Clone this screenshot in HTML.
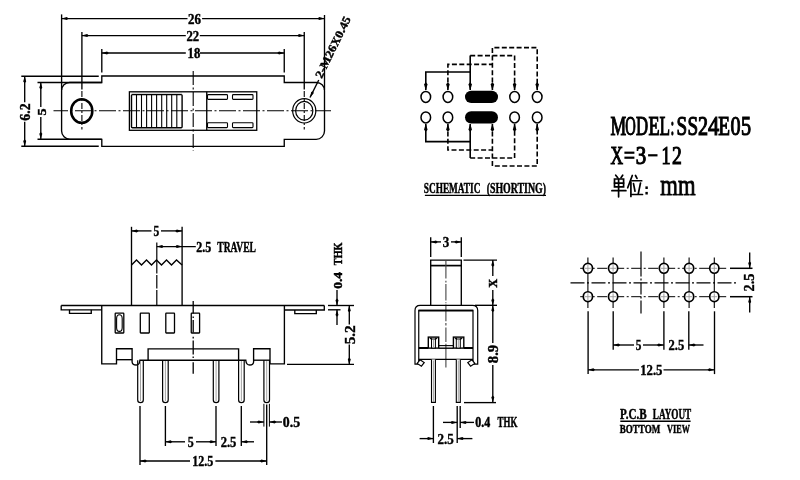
<!DOCTYPE html>
<html><head><meta charset="utf-8"><style>
html,body{margin:0;padding:0;background:#fff;width:800px;height:480px;overflow:hidden}
svg{display:block;will-change:transform}
</style></head><body>
<svg width="800" height="480" viewBox="0 0 800 480" stroke="#000" stroke-linecap="butt">
<rect x="0" y="0" width="800" height="480" fill="#fff" stroke="none"/>
<g fill="#000">
<line x1="61.6" y1="14.4" x2="61.6" y2="90" stroke-width="1.35" />
<line x1="81.9" y1="32" x2="81.9" y2="89.6" stroke-width="1.35" />
<line x1="101.8" y1="49" x2="101.8" y2="72.4" stroke-width="1.35" />
<line x1="324.5" y1="15" x2="324.5" y2="90" stroke-width="1.35" />
<line x1="304.25" y1="32" x2="304.25" y2="89.6" stroke-width="1.35" />
<line x1="284.25" y1="49" x2="284.25" y2="72.4" stroke-width="1.35" />
<line x1="61.6" y1="18.6" x2="187.5" y2="18.6" stroke-width="1.35" />
<line x1="202.1" y1="18.6" x2="324.5" y2="18.6" stroke-width="1.35" />
<polygon points="61.60,18.60 66.85,17.10 68.60,18.60 66.85,20.10" fill="#000" stroke="none"/>
<polygon points="324.50,18.60 319.25,17.10 317.50,18.60 319.25,20.10" fill="#000" stroke="none"/>
<text x="194.6" y="23.70" font-family="Liberation Serif" font-weight="bold" font-size="13.91" text-anchor="middle" textLength="12.96" lengthAdjust="spacingAndGlyphs" stroke="#000" stroke-width="0.4">26</text>
<line x1="81.9" y1="35.6" x2="185.8" y2="35.6" stroke-width="1.35" />
<line x1="199.8" y1="35.6" x2="304.25" y2="35.6" stroke-width="1.35" />
<polygon points="81.90,35.60 87.15,34.10 88.90,35.60 87.15,37.10" fill="#000" stroke="none"/>
<polygon points="304.25,35.60 299.00,34.10 297.25,35.60 299.00,37.10" fill="#000" stroke="none"/>
<text x="192.8" y="40.80" font-family="Liberation Serif" font-weight="bold" font-size="13.91" text-anchor="middle" textLength="12.74" lengthAdjust="spacingAndGlyphs" stroke="#000" stroke-width="0.4">22</text>
<line x1="101.8" y1="53" x2="185.8" y2="53" stroke-width="1.35" />
<line x1="200" y1="53" x2="284.25" y2="53" stroke-width="1.35" />
<polygon points="101.80,53.00 107.05,51.50 108.80,53.00 107.05,54.50" fill="#000" stroke="none"/>
<polygon points="284.25,53.00 279.00,51.50 277.25,53.00 279.00,54.50" fill="#000" stroke="none"/>
<text x="193.9" y="57.70" font-family="Liberation Serif" font-weight="bold" font-size="13.91" text-anchor="middle" textLength="12.74" lengthAdjust="spacingAndGlyphs" stroke="#000" stroke-width="0.4">18</text>
<path d="M101.8,76 H284.25 V82.5 H316.5 A8,8 0 0 1 324.5,90.5 V131 A8.3,8.3 0 0 1 316.2,139.3 H284.25 V146.3 H101.8 V139.3 H70 A8.4,8.4 0 0 1 61.6,130.9 V90.5 A8,8 0 0 1 69.6,82.5 H101.8 Z" stroke-width="1.35" fill="none" />
<line x1="21.3" y1="76.2" x2="98.75" y2="76.2" stroke-width="1.35" />
<line x1="21.3" y1="146.2" x2="98.75" y2="146.2" stroke-width="1.35" />
<line x1="37.5" y1="82.5" x2="101.8" y2="82.5" stroke-width="1.35" />
<line x1="37.5" y1="139.2" x2="101.8" y2="139.2" stroke-width="1.35" />
<line x1="24.7" y1="76.2" x2="24.7" y2="102.3" stroke-width="1.35" />
<line x1="24.7" y1="121.7" x2="24.7" y2="146.2" stroke-width="1.35" />
<polygon points="24.70,76.20 23.20,81.45 24.70,83.20 26.20,81.45" fill="#000" stroke="none"/>
<polygon points="24.70,146.20 23.20,140.95 24.70,139.20 26.20,140.95" fill="#000" stroke="none"/>
<g transform="translate(24.9 112.0) rotate(-90)"><text x="0" y="4.95" font-family="Liberation Serif" font-weight="bold" font-size="14.64" text-anchor="middle" textLength="17.28" lengthAdjust="spacingAndGlyphs" stroke="#000" stroke-width="0.4">6.2</text></g>
<line x1="40.8" y1="82.5" x2="40.8" y2="107" stroke-width="1.35" />
<line x1="40.8" y1="117" x2="40.8" y2="138.9" stroke-width="1.35" />
<polygon points="40.80,82.50 39.30,87.75 40.80,89.50 42.30,87.75" fill="#000" stroke="none"/>
<polygon points="40.80,138.90 39.30,133.65 40.80,131.90 42.30,133.65" fill="#000" stroke="none"/>
<g transform="translate(41.6 112) rotate(-90)"><text x="0" y="3.95" font-family="Liberation Serif" font-weight="bold" font-size="11.69" text-anchor="middle" textLength="7.13" lengthAdjust="spacingAndGlyphs" stroke="#000" stroke-width="0.4">5</text></g>
<ellipse cx="81.75" cy="111" rx="10.6" ry="11.8" stroke-width="2.5" fill="none"/>
<ellipse cx="304.25" cy="110.8" rx="11.6" ry="12.2" stroke-width="1.2" fill="none"/>
<ellipse cx="304.25" cy="110.8" rx="8.6" ry="9.4" stroke-width="1.2" fill="none"/>
<line x1="53.5" y1="110.8" x2="331" y2="110.8" stroke-width="1.1" stroke-dasharray="17 2.5 2 2.5" stroke-dashoffset="2.5"/>
<line x1="81.9" y1="91" x2="81.9" y2="129.5" stroke-width="1.1" stroke-dasharray="6 2 2 2"/>
<line x1="304.25" y1="91" x2="304.25" y2="129.5" stroke-width="1.1" stroke-dasharray="6 2 2 2"/>
<line x1="193.2" y1="71" x2="193.2" y2="151" stroke-width="1.1" stroke-dasharray="14 2.5 2 2.5"/>
<rect x="129.4" y="91.8" width="127.35" height="38.5" stroke-width="1.3" fill="none"/>
<line x1="206.75" y1="91.8" x2="206.75" y2="130.3" stroke-width="1.35" />
<rect x="131.5" y="94.6" width="50.6" height="33.1" rx="1" stroke-width="1.4" fill="none"/>
<line x1="131.5" y1="92.9" x2="182" y2="92.9" stroke-width="0.8" stroke="#777"/>
<line x1="136.5" y1="94.6" x2="136.5" y2="127.7" stroke-width="1.1" />
<line x1="141.5" y1="94.6" x2="141.5" y2="127.7" stroke-width="1.1" />
<line x1="146.6" y1="94.6" x2="146.6" y2="127.7" stroke-width="1.1" />
<line x1="151.6" y1="94.6" x2="151.6" y2="127.7" stroke-width="1.1" />
<line x1="156.6" y1="94.6" x2="156.6" y2="127.7" stroke-width="1.1" />
<line x1="161.7" y1="94.6" x2="161.7" y2="127.7" stroke-width="1.1" />
<line x1="166.7" y1="94.6" x2="166.7" y2="127.7" stroke-width="1.1" />
<line x1="171.7" y1="94.6" x2="171.7" y2="127.7" stroke-width="1.1" />
<line x1="176.8" y1="94.6" x2="176.8" y2="127.7" stroke-width="1.1" />
<rect x="207.5" y="94.6" width="20.0" height="4.8" rx="0.8" stroke-width="1.1" fill="none"/>
<rect x="207.5" y="122.8" width="20.0" height="4.8" rx="0.8" stroke-width="1.1" fill="none"/>
<rect x="232.5" y="94.6" width="20.5" height="4.8" rx="0.8" stroke-width="1.1" fill="none"/>
<rect x="232.5" y="122.8" width="20.5" height="4.8" rx="0.8" stroke-width="1.1" fill="none"/>
<line x1="310" y1="97.5" x2="318.75" y2="80" stroke-width="1.35" />
<polygon points="310.00,97.50 311.21,91.95 313.13,91.24 313.71,93.21" fill="#000" stroke="none"/>
<g transform="translate(332.8 47.2) rotate(-64)"><text x="0" y="3.9" font-family="Liberation Serif" font-weight="bold" font-size="11.6" text-anchor="middle" textLength="67" lengthAdjust="spacingAndGlyphs" stroke="#000" stroke-width="0.4">2-M26X0.45</text></g>
<ellipse cx="425.8" cy="96.9" rx="4.8" ry="5.5" stroke-width="1.5" fill="none"/>
<ellipse cx="425.8" cy="117.4" rx="4.8" ry="5.5" stroke-width="1.5" fill="none"/>
<ellipse cx="447.9" cy="96.9" rx="4.8" ry="5.5" stroke-width="1.5" fill="none"/>
<ellipse cx="447.9" cy="117.4" rx="4.8" ry="5.5" stroke-width="1.5" fill="none"/>
<ellipse cx="514.6" cy="96.9" rx="4.8" ry="5.5" stroke-width="1.5" fill="none"/>
<ellipse cx="514.6" cy="117.4" rx="4.8" ry="5.5" stroke-width="1.5" fill="none"/>
<ellipse cx="537.2" cy="96.9" rx="4.8" ry="5.5" stroke-width="1.5" fill="none"/>
<ellipse cx="537.2" cy="117.4" rx="4.8" ry="5.5" stroke-width="1.5" fill="none"/>
<rect x="465" y="90.7" width="33" height="12.4" rx="6.2" fill="#000" stroke="none"/>
<rect x="465" y="111.3" width="33" height="12.2" rx="6.1" fill="#000" stroke="none"/>
<polyline points="425.8,90 425.8,72 470.2,72" stroke-width="1.6" fill="none" />
<line x1="470.2" y1="55.6" x2="470.2" y2="90" stroke-width="1.6" />
<polyline points="447.9,90 447.9,64.4 492.4,64.4" stroke-width="1.6" fill="none" stroke-dasharray="5 2.4"/>
<polyline points="470.2,55.6 514.6,55.6 514.6,90" stroke-width="1.6" fill="none" stroke-dasharray="5 2.4"/>
<polyline points="492.4,90 492.4,47.6 537.2,47.6 537.2,90" stroke-width="1.6" fill="none" stroke-dasharray="5 2.4"/>
<polygon points="425.80,90.20 424.00,84.20 425.80,82.20 427.60,84.20" fill="#000" stroke="none"/>
<polygon points="447.90,90.20 446.10,84.20 447.90,82.20 449.70,84.20" fill="#000" stroke="none"/>
<polygon points="470.20,90.20 468.40,84.20 470.20,82.20 472.00,84.20" fill="#000" stroke="none"/>
<polygon points="492.40,90.20 490.60,84.20 492.40,82.20 494.20,84.20" fill="#000" stroke="none"/>
<polygon points="514.60,90.20 512.80,84.20 514.60,82.20 516.40,84.20" fill="#000" stroke="none"/>
<polygon points="537.20,90.20 535.40,84.20 537.20,82.20 539.00,84.20" fill="#000" stroke="none"/>
<polyline points="425.8,124 425.8,141.6 470.2,141.6" stroke-width="1.6" fill="none" />
<line x1="470.2" y1="124" x2="470.2" y2="158" stroke-width="1.6" />
<polyline points="447.9,124 447.9,150 492.4,150" stroke-width="1.6" fill="none" stroke-dasharray="5 2.4"/>
<polyline points="470.2,158 514.6,158 514.6,124" stroke-width="1.6" fill="none" stroke-dasharray="5 2.4"/>
<polyline points="492.4,124 492.4,166 537.2,166 537.2,124" stroke-width="1.6" fill="none" stroke-dasharray="5 2.4"/>
<polygon points="425.80,123.80 424.00,129.80 425.80,131.80 427.60,129.80" fill="#000" stroke="none"/>
<polygon points="447.90,123.80 446.10,129.80 447.90,131.80 449.70,129.80" fill="#000" stroke="none"/>
<polygon points="470.20,123.80 468.40,129.80 470.20,131.80 472.00,129.80" fill="#000" stroke="none"/>
<polygon points="492.40,123.80 490.60,129.80 492.40,131.80 494.20,129.80" fill="#000" stroke="none"/>
<polygon points="514.60,123.80 512.80,129.80 514.60,131.80 516.40,129.80" fill="#000" stroke="none"/>
<polygon points="537.20,123.80 535.40,129.80 537.20,131.80 539.00,129.80" fill="#000" stroke="none"/>
<text x="452.10" y="193.18" font-family="Liberation Serif" font-weight="bold" font-size="13.97" text-anchor="middle" textLength="56.58" lengthAdjust="spacingAndGlyphs" stroke="#000" stroke-width="0.45">SCHEMATIC</text>
<text x="516.35" y="193.18" font-family="Liberation Serif" font-weight="bold" font-size="13.97" text-anchor="middle" textLength="59.30" lengthAdjust="spacingAndGlyphs" stroke="#000" stroke-width="0.45">(SHORTING)</text>
<line x1="424.9" y1="195.3" x2="546" y2="195.3" stroke-width="1.3" />
<line x1="131.5" y1="226.8" x2="131.5" y2="265" stroke-width="1.35" />
<line x1="182.1" y1="226.8" x2="182.1" y2="265" stroke-width="1.35" />
<line x1="131.5" y1="230.9" x2="151.5" y2="230.9" stroke-width="1.35" />
<line x1="161" y1="230.9" x2="182.1" y2="230.9" stroke-width="1.35" />
<polygon points="131.50,230.90 136.75,229.40 138.50,230.90 136.75,232.40" fill="#000" stroke="none"/>
<polygon points="182.10,230.90 176.85,229.40 175.10,230.90 176.85,232.40" fill="#000" stroke="none"/>
<text x="156.3" y="235.90" font-family="Liberation Serif" font-weight="bold" font-size="13.61" text-anchor="middle" textLength="5.72" lengthAdjust="spacingAndGlyphs" stroke="#000" stroke-width="0.4">5</text>
<line x1="156.8" y1="242.4" x2="156.8" y2="273.5" stroke-width="1.2" />
<line x1="156.8" y1="275" x2="156.8" y2="288.5" stroke-width="1.2" />
<line x1="156.8" y1="290" x2="156.8" y2="305.5" stroke-width="1.2" />
<line x1="156.8" y1="246.6" x2="195.8" y2="246.6" stroke-width="1.35" />
<polygon points="156.80,246.60 162.05,245.10 163.80,246.60 162.05,248.10" fill="#000" stroke="none"/>
<polygon points="182.10,246.60 176.85,245.10 175.10,246.60 176.85,248.10" fill="#000" stroke="none"/>
<text x="203.80" y="251.53" font-family="Liberation Serif" font-weight="bold" font-size="14.50" text-anchor="middle" textLength="14.98" lengthAdjust="spacingAndGlyphs" stroke="#000" stroke-width="0.45">2.5</text>
<text x="236.60" y="251.53" font-family="Liberation Serif" font-weight="bold" font-size="14.50" text-anchor="middle" textLength="38.69" lengthAdjust="spacingAndGlyphs" stroke="#000" stroke-width="0.45">TRAVEL</text>
<polyline points="131.5,265 136.5,260 141.5,265 146.5,260 151.5,265 156.5,260 161.5,265 166.5,260 171.5,265 176.5,260 182.1,265" stroke-width="1.35" fill="none" />
<line x1="131.5" y1="265" x2="131.5" y2="305.5" stroke-width="1.35" />
<line x1="182.1" y1="265" x2="182.1" y2="305.5" stroke-width="1.35" />
<line x1="61.2" y1="305.5" x2="324.3" y2="305.5" stroke-width="1.35" />
<polyline points="61.2,305.5 61.2,309.8 101.75,309.8" stroke-width="1.35" fill="none" />
<polyline points="324.3,305.5 324.3,310 284.4,310" stroke-width="1.35" fill="none" />
<polyline points="69.5,309.8 69.5,313.4 91.25,313.4 91.25,309.8" stroke-width="1.35" fill="none" />
<polyline points="294.8,310 294.8,313.6 316.3,313.6 316.3,310" stroke-width="1.35" fill="none" />
<path d="M101.75,305.5 V363.9 H116.5 V348.75 H132.1 V362 Q132.3,365 136.2,365 Q139.6,365 139.9,360.2 H245.8 Q246.2,365 249.8,365 Q253.4,365 253.6,362 V348.75 H270 V363.9 H284.4 V305.5" stroke-width="1.35" fill="none" />
<line x1="116.5" y1="359.7" x2="132.1" y2="359.7" stroke-width="1.35" />
<line x1="253.6" y1="360.2" x2="270" y2="360.2" stroke-width="1.35" />
<polyline points="148.1,360.2 148.1,348.9 238.6,348.9 238.6,360.2" stroke-width="1.35" fill="none" />
<rect x="115.2" y="313.2" width="8.599999999999994" height="19.8" rx="0.5" stroke-width="1.3" fill="none"/>
<rect x="140.3" y="313.2" width="9.0" height="19.8" rx="0.5" stroke-width="1.3" fill="none"/>
<rect x="165.8" y="313.2" width="8.699999999999989" height="19.8" rx="0.5" stroke-width="1.3" fill="none"/>
<rect x="191.25" y="313.2" width="8.349999999999994" height="19.8" rx="0.5" stroke-width="1.3" fill="none"/>
<rect x="116.6" y="314.8" width="5.6" height="16.6" rx="2.8" ry="4" stroke-width="1.1" fill="none"/>
<line x1="193.2" y1="300.9" x2="193.2" y2="313.5" stroke-width="1.3" />
<line x1="193.2" y1="316.5" x2="193.2" y2="318" stroke-width="1.3" />
<line x1="193.2" y1="320" x2="193.2" y2="332.5" stroke-width="1.3" />
<line x1="193.2" y1="336.8" x2="193.2" y2="338.4" stroke-width="1.3" />
<line x1="193.2" y1="340.4" x2="193.2" y2="354.5" stroke-width="1.3" />
<line x1="193.2" y1="356.5" x2="193.2" y2="358" stroke-width="1.3" />
<line x1="193.2" y1="362.3" x2="193.2" y2="373.75" stroke-width="1.3" />
<path d="M137.7,360.2 V400 Q137.7,402.6 140.5,402.6 Q143.3,402.6 143.3,400 V360.2" stroke-width="1.2" fill="none" />
<line x1="140.5" y1="361" x2="140.5" y2="401" stroke-width="0.9" stroke="#999"/>
<path d="M162.6,360.2 V400 Q162.6,402.6 165.4,402.6 Q168.20000000000002,402.6 168.20000000000002,400 V360.2" stroke-width="1.2" fill="none" />
<line x1="165.4" y1="361" x2="165.4" y2="401" stroke-width="0.9" stroke="#999"/>
<path d="M213.29999999999998,360.2 V400 Q213.29999999999998,402.6 216.1,402.6 Q218.9,402.6 218.9,400 V360.2" stroke-width="1.2" fill="none" />
<line x1="216.1" y1="361" x2="216.1" y2="401" stroke-width="0.9" stroke="#999"/>
<path d="M238.6,360.2 V400 Q238.6,402.6 241.4,402.6 Q244.20000000000002,402.6 244.20000000000002,400 V360.2" stroke-width="1.2" fill="none" />
<line x1="241.4" y1="361" x2="241.4" y2="401" stroke-width="0.9" stroke="#999"/>
<path d="M263.9,360.2 V400 Q263.9,402.6 266.7,402.6 Q269.5,402.6 269.5,400 V360.2" stroke-width="1.2" fill="none" />
<line x1="266.7" y1="361" x2="266.7" y2="401" stroke-width="0.9" stroke="#999"/>
<line x1="140.0" y1="406" x2="140.0" y2="465" stroke-width="1.35" />
<line x1="165.4" y1="406" x2="165.4" y2="446" stroke-width="1.35" />
<line x1="216.0" y1="406" x2="216.0" y2="446" stroke-width="1.35" />
<line x1="241.3" y1="406" x2="241.3" y2="446" stroke-width="1.35" />
<line x1="266.7" y1="404.6" x2="266.7" y2="465" stroke-width="1.35" />
<line x1="263.9" y1="403.8" x2="263.9" y2="426.6" stroke-width="1.0" />
<line x1="269.4" y1="403.8" x2="269.4" y2="426.6" stroke-width="1.0" />
<line x1="140.0" y1="461" x2="190" y2="461" stroke-width="1.35" />
<line x1="215.4" y1="461" x2="266.7" y2="461" stroke-width="1.35" />
<polygon points="140.00,461.00 145.25,459.50 147.00,461.00 145.25,462.50" fill="#000" stroke="none"/>
<polygon points="266.70,461.00 261.45,459.50 259.70,461.00 261.45,462.50" fill="#000" stroke="none"/>
<text x="202.7" y="466.30" font-family="Liberation Serif" font-weight="bold" font-size="13.91" text-anchor="middle" textLength="21.06" lengthAdjust="spacingAndGlyphs" stroke="#000" stroke-width="0.4">12.5</text>
<line x1="165.4" y1="441.8" x2="185" y2="441.8" stroke-width="1.35" />
<line x1="196" y1="441.8" x2="216.0" y2="441.8" stroke-width="1.35" />
<polygon points="165.40,441.80 170.65,440.30 172.40,441.80 170.65,443.30" fill="#000" stroke="none"/>
<polygon points="216.00,441.80 210.75,440.30 209.00,441.80 210.75,443.30" fill="#000" stroke="none"/>
<text x="190.8" y="446.80" font-family="Liberation Serif" font-weight="bold" font-size="13.61" text-anchor="middle" textLength="5.94" lengthAdjust="spacingAndGlyphs" stroke="#000" stroke-width="0.4">5</text>
<text x="228.5" y="446.80" font-family="Liberation Serif" font-weight="bold" font-size="13.61" text-anchor="middle" textLength="15.66" lengthAdjust="spacingAndGlyphs" stroke="#000" stroke-width="0.4">2.5</text>
<line x1="241.3" y1="441.8" x2="254" y2="441.8" stroke-width="1.35" />
<polygon points="241.30,441.80 246.55,440.30 248.30,441.80 246.55,443.30" fill="#000" stroke="none"/>
<line x1="250" y1="422" x2="263.9" y2="422" stroke-width="1.35" />
<polygon points="263.90,422.00 258.65,420.50 256.90,422.00 258.65,423.50" fill="#000" stroke="none"/>
<line x1="269.4" y1="422" x2="282" y2="422" stroke-width="1.35" />
<polygon points="269.40,422.00 274.65,420.50 276.40,422.00 274.65,423.50" fill="#000" stroke="none"/>
<text x="291.5" y="426.90" font-family="Liberation Serif" font-weight="bold" font-size="13.61" text-anchor="middle" textLength="17.28" lengthAdjust="spacingAndGlyphs" stroke="#000" stroke-width="0.4">0.5</text>
<line x1="328" y1="305.5" x2="354" y2="305.5" stroke-width="1.35" />
<line x1="328" y1="309.8" x2="340.5" y2="309.8" stroke-width="1.35" />
<line x1="337" y1="290" x2="337" y2="305.5" stroke-width="1.35" />
<polygon points="337.00,305.50 335.50,300.25 337.00,298.50 338.50,300.25" fill="#000" stroke="none"/>
<line x1="337" y1="309.8" x2="337" y2="325" stroke-width="1.35" />
<polygon points="337.00,309.80 335.50,315.05 337.00,316.80 338.50,315.05" fill="#000" stroke="none"/>
<g transform="translate(341.67 253.82) rotate(-90)"><text x="0" y="0" font-family="Liberation Serif" font-weight="bold" font-size="12.61" text-anchor="middle" textLength="22.72" lengthAdjust="spacingAndGlyphs" stroke="#000" stroke-width="0.45">THK</text></g>
<g transform="translate(341.67 280.38) rotate(-90)"><text x="0" y="0" font-family="Liberation Serif" font-weight="bold" font-size="12.61" text-anchor="middle" textLength="16.90" lengthAdjust="spacingAndGlyphs" stroke="#000" stroke-width="0.45">0.4</text></g>
<line x1="287" y1="364.4" x2="354" y2="364.4" stroke-width="1.35" />
<line x1="349.3" y1="305.5" x2="349.3" y2="324.5" stroke-width="1.35" />
<line x1="349.3" y1="344.5" x2="349.3" y2="364.4" stroke-width="1.35" />
<polygon points="349.30,305.50 347.80,310.75 349.30,312.50 350.80,310.75" fill="#000" stroke="none"/>
<polygon points="349.30,364.40 347.80,359.15 349.30,357.40 350.80,359.15" fill="#000" stroke="none"/>
<g transform="translate(350.5 334.8) rotate(-90)"><text x="0" y="4.60" font-family="Liberation Serif" font-weight="bold" font-size="13.61" text-anchor="middle" textLength="19.01" lengthAdjust="spacingAndGlyphs" stroke="#000" stroke-width="0.4">5.2</text></g>
<line x1="430.7" y1="237.2" x2="430.7" y2="256.9" stroke-width="1.35" />
<line x1="461.3" y1="237.2" x2="461.3" y2="256.9" stroke-width="1.35" />
<line x1="430.7" y1="241.9" x2="441" y2="241.9" stroke-width="1.35" />
<line x1="451" y1="241.9" x2="461.3" y2="241.9" stroke-width="1.35" />
<polygon points="430.70,241.90 435.95,240.40 437.70,241.90 435.95,243.40" fill="#000" stroke="none"/>
<polygon points="461.30,241.90 456.05,240.40 454.30,241.90 456.05,243.40" fill="#000" stroke="none"/>
<text x="446" y="247.10" font-family="Liberation Serif" font-weight="bold" font-size="14.20" text-anchor="middle" textLength="6.48" lengthAdjust="spacingAndGlyphs" stroke="#000" stroke-width="0.4">3</text>
<polyline points="430.7,305.3 430.7,260.1 461.3,260.1 461.3,305.3" stroke-width="1.35" fill="none" />
<line x1="430.7" y1="265.6" x2="461.3" y2="265.6" stroke-width="1.7" />
<line x1="445.9" y1="260.6" x2="445.9" y2="278.5" stroke-width="1.1" stroke="#444"/>
<line x1="445.9" y1="280.8" x2="445.9" y2="282.5" stroke-width="1.1" stroke="#444"/>
<line x1="445.9" y1="284" x2="445.9" y2="300.4" stroke-width="1.1" stroke="#444"/>
<line x1="445.9" y1="302.2" x2="445.9" y2="303.2" stroke-width="1.1" stroke="#444"/>
<line x1="445.9" y1="304.5" x2="445.9" y2="321.3" stroke-width="1.1" stroke="#444"/>
<line x1="445.9" y1="323" x2="445.9" y2="325.6" stroke-width="1.1" stroke="#444"/>
<line x1="445.9" y1="327.5" x2="445.9" y2="342" stroke-width="1.1" stroke="#444"/>
<line x1="445.9" y1="343.8" x2="445.9" y2="367.5" stroke-width="1.1" stroke="#444"/>
<line x1="463.5" y1="260.1" x2="497" y2="260.1" stroke-width="1.35" />
<line x1="475" y1="305.3" x2="497" y2="305.3" stroke-width="1.35" />
<line x1="492.8" y1="260.1" x2="492.8" y2="276" stroke-width="1.35" />
<line x1="492.8" y1="290" x2="492.8" y2="305.3" stroke-width="1.35" />
<polygon points="492.80,260.10 491.30,265.35 492.80,267.10 494.30,265.35" fill="#000" stroke="none"/>
<polygon points="492.80,305.30 491.30,300.05 492.80,298.30 494.30,300.05" fill="#000" stroke="none"/>
<g transform="translate(496.77 283.25) rotate(-90)"><text x="0" y="0" font-family="Liberation Serif" font-weight="bold" font-size="12.92" text-anchor="middle" textLength="8.93" lengthAdjust="spacingAndGlyphs" stroke="#000" stroke-width="0.45">X</text></g>
<path d="M415,364.2 V310.5 Q415,305.3 420.2,305.3 H472.5 Q477.7,305.3 477.7,310.5 V364.2 H473 V310.4 H418.75 V364.2 Z" stroke-width="1.2" fill="none" />
<line x1="418.75" y1="310.6" x2="473" y2="310.6" stroke-width="1.8" />
<polygon points="420,359.8 424.2,362.6 421.4,366.2 417.2,363.4" stroke-width="1.2" fill="#fff"/>
<polygon points="472,359.8 467.8,362.6 470.6,366.2 474.8,363.4" stroke-width="1.2" fill="#fff"/>
<line x1="418.75" y1="348" x2="428.3" y2="348" stroke-width="2.0" />
<line x1="463.8" y1="348" x2="473" y2="348" stroke-width="2.0" />
<line x1="418.75" y1="359.4" x2="473" y2="359.4" stroke-width="1.3" />
<line x1="438.75" y1="345.6" x2="453.4" y2="345.6" stroke-width="1.1" />
<line x1="438.75" y1="348.2" x2="453.4" y2="348.2" stroke-width="1.4" />
<rect x="428.3" y="337.1" width="10.4" height="11" stroke-width="1.4" fill="#fff"/>
<polygon points="429.0,337.8 431.90000000000003,337.8 431.90000000000003,340.6" fill="#000" stroke="none"/>
<polygon points="438.0,337.8 435.1,337.8 435.1,340.6" fill="#000" stroke="none"/>
<rect x="453.4" y="337.1" width="10.4" height="11" stroke-width="1.4" fill="#fff"/>
<polygon points="454.09999999999997,337.8 457.0,337.8 457.0,340.6" fill="#000" stroke="none"/>
<polygon points="463.09999999999997,337.8 460.2,337.8 460.2,340.6" fill="#000" stroke="none"/>
<rect x="431.5" y="339" width="3.8999999999999773" height="9" stroke-width="1.0" fill="#fff"/>
<line x1="433.45" y1="340" x2="433.45" y2="347.5" stroke-width="0.9" stroke="#999"/>
<path d="M431.5,359.4 V402.4 H435.4 V359.4" stroke-width="1.1" fill="#fff"/>
<line x1="433.45" y1="360.5" x2="433.45" y2="402" stroke-width="0.9" stroke="#999"/>
<rect x="456.3" y="339" width="4.0" height="9" stroke-width="1.0" fill="#fff"/>
<line x1="458.3" y1="340" x2="458.3" y2="347.5" stroke-width="0.9" stroke="#999"/>
<path d="M456.3,359.4 V402.4 H460.3 V359.4" stroke-width="1.1" fill="#fff"/>
<line x1="458.3" y1="360.5" x2="458.3" y2="402" stroke-width="0.9" stroke="#999"/>
<line x1="492.8" y1="305.3" x2="492.8" y2="343" stroke-width="1.35" />
<line x1="492.8" y1="365" x2="492.8" y2="402.6" stroke-width="1.35" />
<polygon points="492.80,305.30 491.30,310.55 492.80,312.30 494.30,310.55" fill="#000" stroke="none"/>
<polygon points="492.80,402.60 491.30,397.35 492.80,395.60 494.30,397.35" fill="#000" stroke="none"/>
<g transform="translate(493 354) rotate(-90)"><text x="0" y="4.60" font-family="Liberation Serif" font-weight="bold" font-size="13.61" text-anchor="middle" textLength="18.36" lengthAdjust="spacingAndGlyphs" stroke="#000" stroke-width="0.4">8.9</text></g>
<line x1="464" y1="402.6" x2="496" y2="402.6" stroke-width="1.35" />
<line x1="433.4" y1="406" x2="433.4" y2="443" stroke-width="1.35" />
<line x1="457.2" y1="406" x2="457.2" y2="443" stroke-width="1.35" />
<line x1="460.2" y1="406" x2="460.2" y2="428" stroke-width="1.35" />
<line x1="443" y1="422.4" x2="457.2" y2="422.4" stroke-width="1.35" />
<polygon points="457.20,422.40 451.95,420.90 450.20,422.40 451.95,423.90" fill="#000" stroke="none"/>
<line x1="460.2" y1="422.4" x2="474" y2="422.4" stroke-width="1.35" />
<polygon points="460.20,422.40 465.45,420.90 467.20,422.40 465.45,423.90" fill="#000" stroke="none"/>
<text x="482.80" y="426.77" font-family="Liberation Serif" font-weight="bold" font-size="13.52" text-anchor="middle" textLength="14.98" lengthAdjust="spacingAndGlyphs" stroke="#000" stroke-width="0.45">0.4</text>
<text x="507.50" y="426.77" font-family="Liberation Serif" font-weight="bold" font-size="13.52" text-anchor="middle" textLength="19.76" lengthAdjust="spacingAndGlyphs" stroke="#000" stroke-width="0.45">THK</text>
<line x1="419.6" y1="438.6" x2="433.4" y2="438.6" stroke-width="1.35" />
<polygon points="433.40,438.60 428.15,437.10 426.40,438.60 428.15,440.10" fill="#000" stroke="none"/>
<text x="445.6" y="443.60" font-family="Liberation Serif" font-weight="bold" font-size="13.61" text-anchor="middle" textLength="16.20" lengthAdjust="spacingAndGlyphs" stroke="#000" stroke-width="0.4">2.5</text>
<line x1="457.2" y1="438.6" x2="472.4" y2="438.6" stroke-width="1.35" />
<polygon points="457.20,438.60 462.45,437.10 464.20,438.60 462.45,440.10" fill="#000" stroke="none"/>
<line x1="570.5" y1="282.9" x2="737.5" y2="282.9" stroke-width="1.1" stroke-dasharray="14 2.5 2 2.5"/>
<line x1="580.2" y1="268.3" x2="728.3" y2="268.3" stroke-width="1.0" stroke-dasharray="10 2.5 2 2.5"/>
<line x1="730" y1="268.3" x2="752.5" y2="268.3" stroke-width="1.5" />
<line x1="580.2" y1="296.7" x2="728.3" y2="296.7" stroke-width="1.0" stroke-dasharray="10 2.5 2 2.5"/>
<line x1="730" y1="296.7" x2="752.5" y2="296.7" stroke-width="1.5" />
<line x1="641.0" y1="251.6" x2="641.0" y2="276.5" stroke-width="1.2" />
<line x1="641.0" y1="278.5" x2="641.0" y2="280.5" stroke-width="1.2" />
<line x1="641.0" y1="282.5" x2="641.0" y2="294.5" stroke-width="1.2" />
<line x1="641.0" y1="296.5" x2="641.0" y2="298.5" stroke-width="1.2" />
<line x1="641.0" y1="300.5" x2="641.0" y2="313.6" stroke-width="1.2" />
<line x1="587.9" y1="257.5" x2="587.9" y2="308" stroke-width="1.1" />
<ellipse cx="587.9" cy="268.3" rx="4.6" ry="4.95" stroke-width="1.7" fill="#fff"/>
<path d="M584.9,268.3 H590.9 M587.9,265.0 V271.6" stroke-width="0.9" stroke="#999" fill="none"/>
<ellipse cx="587.9" cy="296.7" rx="4.6" ry="4.95" stroke-width="1.7" fill="#fff"/>
<path d="M584.9,296.7 H590.9 M587.9,293.4 V300.0" stroke-width="0.9" stroke="#999" fill="none"/>
<line x1="613.1" y1="257.5" x2="613.1" y2="308" stroke-width="1.1" />
<ellipse cx="613.1" cy="268.3" rx="4.6" ry="4.95" stroke-width="1.7" fill="#fff"/>
<path d="M610.1,268.3 H616.1 M613.1,265.0 V271.6" stroke-width="0.9" stroke="#999" fill="none"/>
<ellipse cx="613.1" cy="296.7" rx="4.6" ry="4.95" stroke-width="1.7" fill="#fff"/>
<path d="M610.1,296.7 H616.1 M613.1,293.4 V300.0" stroke-width="0.9" stroke="#999" fill="none"/>
<line x1="663.9" y1="257.5" x2="663.9" y2="308" stroke-width="1.1" />
<ellipse cx="663.9" cy="268.3" rx="4.6" ry="4.95" stroke-width="1.7" fill="#fff"/>
<path d="M660.9,268.3 H666.9 M663.9,265.0 V271.6" stroke-width="0.9" stroke="#999" fill="none"/>
<ellipse cx="663.9" cy="296.7" rx="4.6" ry="4.95" stroke-width="1.7" fill="#fff"/>
<path d="M660.9,296.7 H666.9 M663.9,293.4 V300.0" stroke-width="0.9" stroke="#999" fill="none"/>
<line x1="689.1" y1="257.5" x2="689.1" y2="308" stroke-width="1.1" />
<ellipse cx="689.1" cy="268.3" rx="4.6" ry="4.95" stroke-width="1.7" fill="#fff"/>
<path d="M686.1,268.3 H692.1 M689.1,265.0 V271.6" stroke-width="0.9" stroke="#999" fill="none"/>
<ellipse cx="689.1" cy="296.7" rx="4.6" ry="4.95" stroke-width="1.7" fill="#fff"/>
<path d="M686.1,296.7 H692.1 M689.1,293.4 V300.0" stroke-width="0.9" stroke="#999" fill="none"/>
<line x1="714.3" y1="257.5" x2="714.3" y2="308" stroke-width="1.1" />
<ellipse cx="714.3" cy="268.3" rx="4.6" ry="4.95" stroke-width="1.7" fill="#fff"/>
<path d="M711.3,268.3 H717.3 M714.3,265.0 V271.6" stroke-width="0.9" stroke="#999" fill="none"/>
<ellipse cx="714.3" cy="296.7" rx="4.6" ry="4.95" stroke-width="1.7" fill="#fff"/>
<path d="M711.3,296.7 H717.3 M714.3,293.4 V300.0" stroke-width="0.9" stroke="#999" fill="none"/>
<line x1="749.7" y1="252.5" x2="749.7" y2="268.3" stroke-width="1.35" />
<polygon points="749.70,268.30 748.20,263.05 749.70,261.30 751.20,263.05" fill="#000" stroke="none"/>
<line x1="749.7" y1="296.7" x2="749.7" y2="312.5" stroke-width="1.35" />
<polygon points="749.70,296.70 748.20,301.95 749.70,303.70 751.20,301.95" fill="#000" stroke="none"/>
<g transform="translate(749.7 282.5) rotate(-90)"><text x="0" y="4.70" font-family="Liberation Serif" font-weight="bold" font-size="13.91" text-anchor="middle" textLength="17.93" lengthAdjust="spacingAndGlyphs" stroke="#000" stroke-width="0.4">2.5</text></g>
<line x1="588.1" y1="311.3" x2="588.1" y2="374.1" stroke-width="1.35" />
<line x1="714.5" y1="311.3" x2="714.5" y2="374.1" stroke-width="1.35" />
<line x1="613.2" y1="311.3" x2="613.2" y2="349.7" stroke-width="1.35" />
<line x1="663.9" y1="311.3" x2="663.9" y2="349.7" stroke-width="1.35" />
<line x1="688.8" y1="311.3" x2="688.8" y2="349.7" stroke-width="1.35" />
<line x1="613.2" y1="345" x2="634" y2="345" stroke-width="1.35" />
<line x1="643" y1="345" x2="663.9" y2="345" stroke-width="1.35" />
<polygon points="613.20,345.00 618.45,343.50 620.20,345.00 618.45,346.50" fill="#000" stroke="none"/>
<polygon points="663.90,345.00 658.65,343.50 656.90,345.00 658.65,346.50" fill="#000" stroke="none"/>
<text x="638.5" y="349.90" font-family="Liberation Serif" font-weight="bold" font-size="13.61" text-anchor="middle" textLength="5.62" lengthAdjust="spacingAndGlyphs" stroke="#000" stroke-width="0.4">5</text>
<text x="676.4" y="349.90" font-family="Liberation Serif" font-weight="bold" font-size="13.61" text-anchor="middle" textLength="15.66" lengthAdjust="spacingAndGlyphs" stroke="#000" stroke-width="0.4">2.5</text>
<line x1="688.8" y1="345" x2="703.5" y2="345" stroke-width="1.35" />
<polygon points="688.80,345.00 694.05,343.50 695.80,345.00 694.05,346.50" fill="#000" stroke="none"/>
<line x1="588.1" y1="369.8" x2="639" y2="369.8" stroke-width="1.35" />
<line x1="663.5" y1="369.8" x2="714.5" y2="369.8" stroke-width="1.35" />
<polygon points="588.10,369.80 593.35,368.30 595.10,369.80 593.35,371.30" fill="#000" stroke="none"/>
<polygon points="714.50,369.80 709.25,368.30 707.50,369.80 709.25,371.30" fill="#000" stroke="none"/>
<text x="651.3" y="374.75" font-family="Liberation Serif" font-weight="bold" font-size="14.35" text-anchor="middle" textLength="22.25" lengthAdjust="spacingAndGlyphs" stroke="#000" stroke-width="0.4">12.5</text>
<text x="633.25" y="418.77" font-family="Liberation Serif" font-weight="bold" font-size="13.67" text-anchor="middle" textLength="26.52" lengthAdjust="spacingAndGlyphs" stroke="#000" stroke-width="0.45">P.C.B</text>
<text x="672.00" y="418.77" font-family="Liberation Serif" font-weight="bold" font-size="13.67" text-anchor="middle" textLength="38.48" lengthAdjust="spacingAndGlyphs" stroke="#000" stroke-width="0.45">LAYOUT</text>
<line x1="620.3" y1="421.2" x2="690.6" y2="421.2" stroke-width="1.4" />
<text x="640.00" y="433.27" font-family="Liberation Serif" font-weight="bold" font-size="12.92" text-anchor="middle" textLength="40.56" lengthAdjust="spacingAndGlyphs" stroke="#000" stroke-width="0.45">BOTTOM</text>
<text x="678.50" y="433.27" font-family="Liberation Serif" font-weight="bold" font-size="12.92" text-anchor="middle" textLength="22.88" lengthAdjust="spacingAndGlyphs" stroke="#000" stroke-width="0.45">VIEW</text>
<text x="618.30" y="135.20" font-family="Liberation Serif" font-weight="normal" font-size="26.89" text-anchor="middle" textLength="15.68" lengthAdjust="spacingAndGlyphs" stroke="#000" stroke-width="1.15">M</text>
<text x="630.50" y="135.20" font-family="Liberation Serif" font-weight="normal" font-size="26.89" text-anchor="middle" textLength="10.53" lengthAdjust="spacingAndGlyphs" stroke="#000" stroke-width="1.15">O</text>
<text x="642.00" y="135.20" font-family="Liberation Serif" font-weight="normal" font-size="26.89" text-anchor="middle" textLength="12.10" lengthAdjust="spacingAndGlyphs" stroke="#000" stroke-width="1.15">D</text>
<text x="654.15" y="135.20" font-family="Liberation Serif" font-weight="normal" font-size="26.89" text-anchor="middle" textLength="11.09" lengthAdjust="spacingAndGlyphs" stroke="#000" stroke-width="1.15">E</text>
<text x="664.70" y="135.20" font-family="Liberation Serif" font-weight="normal" font-size="26.89" text-anchor="middle" textLength="10.53" lengthAdjust="spacingAndGlyphs" stroke="#000" stroke-width="1.15">L</text>
<text x="672.30" y="135.20" font-family="Liberation Serif" font-weight="normal" font-size="26.89" text-anchor="middle" textLength="3.81" lengthAdjust="spacingAndGlyphs" stroke="#000" stroke-width="1.15">:</text>
<text x="681.75" y="135.20" font-family="Liberation Serif" font-weight="normal" font-size="26.89" text-anchor="middle" textLength="10.64" lengthAdjust="spacingAndGlyphs" stroke="#000" stroke-width="1.15">S</text>
<text x="692.75" y="135.20" font-family="Liberation Serif" font-weight="normal" font-size="26.89" text-anchor="middle" textLength="10.64" lengthAdjust="spacingAndGlyphs" stroke="#000" stroke-width="1.15">S</text>
<text x="703.00" y="135.20" font-family="Liberation Serif" font-weight="normal" font-size="26.89" text-anchor="middle" textLength="10.08" lengthAdjust="spacingAndGlyphs" stroke="#000" stroke-width="1.15">2</text>
<text x="713.50" y="135.20" font-family="Liberation Serif" font-weight="normal" font-size="26.89" text-anchor="middle" textLength="11.20" lengthAdjust="spacingAndGlyphs" stroke="#000" stroke-width="1.15">4</text>
<text x="724.25" y="135.20" font-family="Liberation Serif" font-weight="normal" font-size="26.89" text-anchor="middle" textLength="11.76" lengthAdjust="spacingAndGlyphs" stroke="#000" stroke-width="1.15">E</text>
<text x="735.50" y="135.20" font-family="Liberation Serif" font-weight="normal" font-size="26.89" text-anchor="middle" textLength="10.08" lengthAdjust="spacingAndGlyphs" stroke="#000" stroke-width="1.15">0</text>
<text x="746.00" y="135.20" font-family="Liberation Serif" font-weight="normal" font-size="26.89" text-anchor="middle" textLength="10.08" lengthAdjust="spacingAndGlyphs" stroke="#000" stroke-width="1.15">5</text>
<text x="616.88" y="163.55" font-family="Liberation Serif" font-weight="normal" font-size="25.83" text-anchor="middle" textLength="12.60" lengthAdjust="spacingAndGlyphs" stroke="#000" stroke-width="1.15">X</text>
<text x="640.92" y="163.55" font-family="Liberation Serif" font-weight="normal" font-size="25.83" text-anchor="middle" textLength="10.47" lengthAdjust="spacingAndGlyphs" stroke="#000" stroke-width="1.15">3</text>
<text x="665.95" y="163.55" font-family="Liberation Serif" font-weight="normal" font-size="25.83" text-anchor="middle" textLength="9.07" lengthAdjust="spacingAndGlyphs" stroke="#000" stroke-width="1.15">1</text>
<text x="676.88" y="163.55" font-family="Liberation Serif" font-weight="normal" font-size="25.83" text-anchor="middle" textLength="9.80" lengthAdjust="spacingAndGlyphs" stroke="#000" stroke-width="1.15">2</text>
<rect x="624.4" y="151.6" width="10" height="2.2" fill="#000" stroke="none"/>
<rect x="624.4" y="156.6" width="10" height="2.2" fill="#000" stroke="none"/>
<rect x="648.1" y="154.2" width="9.4" height="2.2" fill="#000" stroke="none"/>
<text x="660.3" y="194.6" font-family="Liberation Serif" font-weight="normal" font-size="28.6" textLength="35.2" lengthAdjust="spacingAndGlyphs" stroke="#000" stroke-width="0.85">mm</text>
<path d="M615.7,175.2 L617.75,177.8" fill="none" stroke-width="1.7" stroke-linecap="round"/>
<path d="M622.7,175.2 L621,177.8" fill="none" stroke-width="1.7" stroke-linecap="round"/>
<path d="M614.5,179 H623.6 V186.9 H614.5 Z" fill="none" stroke-width="1.7" stroke-linecap="round"/>
<path d="M614.5,183.1 H623.6" fill="none" stroke-width="1.7" stroke-linecap="round"/>
<path d="M618.6,179 V196.8" fill="none" stroke-width="1.7" stroke-linecap="round"/>
<path d="M611.9,190.7 H625.9" fill="none" stroke-width="1.7" stroke-linecap="round"/>
<path d="M632.3,175.5 L627.7,187.75" fill="none" stroke-width="1.7" stroke-linecap="round"/>
<path d="M630.9,182 V196.5" fill="none" stroke-width="1.7" stroke-linecap="round"/>
<path d="M635.5,175.5 L637,178.4" fill="none" stroke-width="1.7" stroke-linecap="round"/>
<path d="M631.75,180.75 H641.7" fill="none" stroke-width="1.7" stroke-linecap="round"/>
<path d="M633.5,183.7 L635,191.25" fill="none" stroke-width="1.7" stroke-linecap="round"/>
<path d="M640.5,183 L638.2,194.2" fill="none" stroke-width="1.7" stroke-linecap="round"/>
<path d="M631.5,194.5 H642.5" fill="none" stroke-width="1.7" stroke-linecap="round"/>
<rect x="645.4" y="186.4" width="2.4" height="2.6" fill="#000" stroke="none"/>
<rect x="645.4" y="191.9" width="2.4" height="2.6" fill="#000" stroke="none"/>
</g>
</svg>
</body></html>
